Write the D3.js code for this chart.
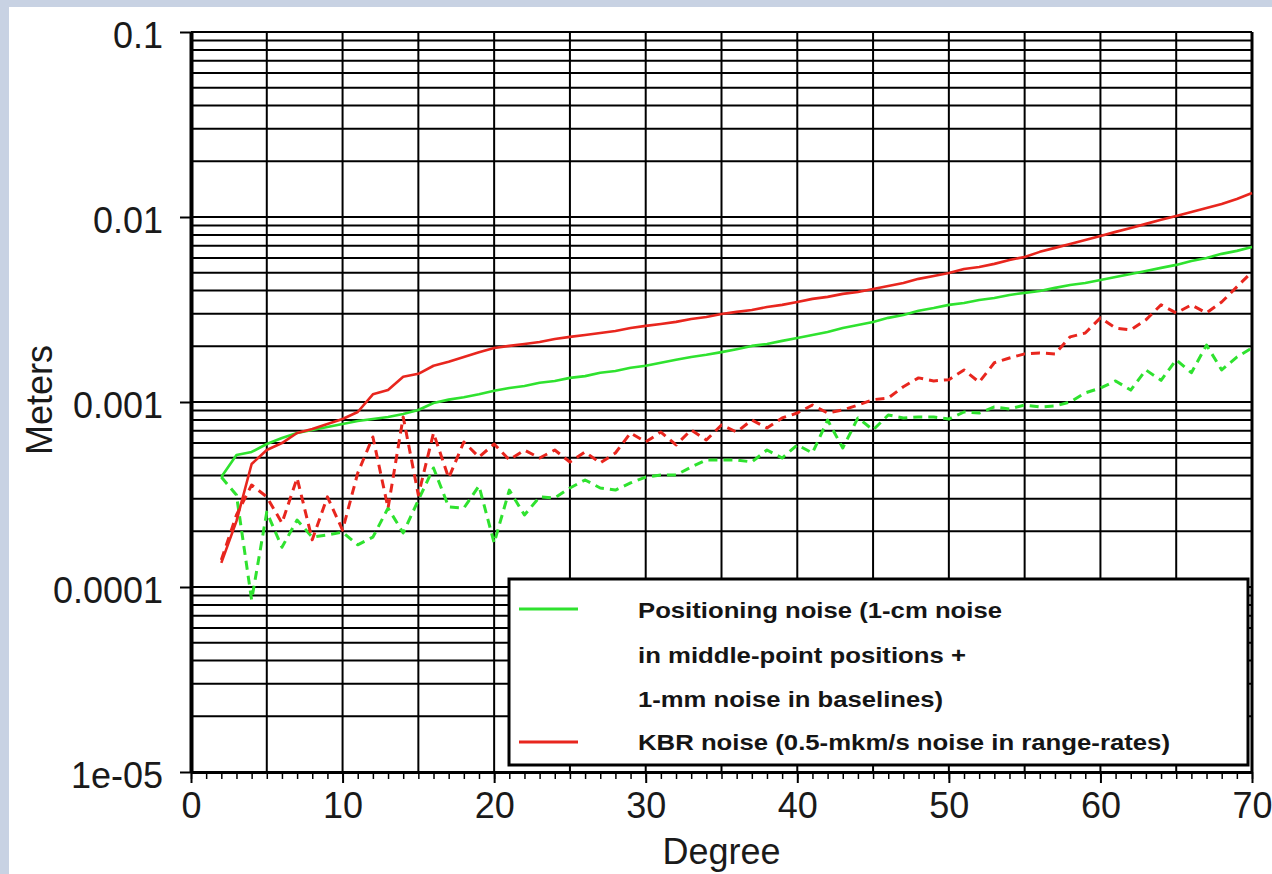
<!DOCTYPE html>
<html lang="en">
    <head>
        <meta charset="utf-8">
        <title>Noise vs degree</title>
        <script src="https://d3js.org/d3.v7.min.js"></script>
        <style>
            body { margin: 0; background: #c8d2e3; }
            svg { display: block; }
            text { font-family: "Liberation Sans", Arial, Helvetica, sans-serif; }
        </style>
    </head>
    <body>
        <div id="chart"></div>
        <script>
            // values (meters per degree)
            var degrees = [2, 3, 4, 5, 6, 7, 8, 9, 10, 11,
                           12, 13, 14, 15, 16, 17, 18, 19, 20, 21,
                           22, 23, 24, 25, 26, 27, 28, 29, 30, 31,
                           32, 33, 34, 35, 36, 37, 38, 39, 40, 41,
                           42, 43, 44, 45, 46, 47, 48, 49, 50, 51,
                           52, 53, 54, 55, 56, 57, 58, 59, 60, 61,
                           62, 63, 64, 65, 66, 67, 68, 69, 70];

            var kbrSolid = [0.000135, 0.000227, 0.000462, 0.000550, 0.000600, 0.000680, 0.000715, 0.000761, 0.000809, 0.000883,
                            0.00110, 0.00116, 0.00137, 0.00142, 0.00157, 0.00165, 0.00175, 0.00186, 0.00196, 0.00201,
                            0.00206, 0.00211, 0.00219, 0.00225, 0.00230, 0.00236, 0.00242, 0.00251, 0.00258, 0.00264,
                            0.00271, 0.00281, 0.00288, 0.00299, 0.00307, 0.00314, 0.00326, 0.00335, 0.00347, 0.00361,
                            0.00370, 0.00384, 0.00393, 0.00408, 0.00424, 0.00440, 0.00463, 0.00480, 0.00498, 0.00524,
                            0.00537, 0.00558, 0.00586, 0.00608, 0.00648, 0.00681, 0.00715, 0.00752, 0.00790, 0.00831,
                            0.00873, 0.00918, 0.00965, 0.01013, 0.01064, 0.01119, 0.01176, 0.01251, 0.01348];

            var posSolid = [0.000393, 0.000517, 0.000537, 0.000593, 0.000639, 0.000680, 0.000706, 0.000733, 0.000761, 0.000790,
                            0.000809, 0.000830, 0.000861, 0.000905, 0.000988, 0.00103, 0.00106, 0.00110, 0.00115, 0.00119,
                            0.00122, 0.00127, 0.00130, 0.00135, 0.00138, 0.00144, 0.00147, 0.00153, 0.00157, 0.00163,
                            0.00169, 0.00175, 0.00180, 0.00186, 0.00193, 0.00201, 0.00206, 0.00214, 0.00222, 0.00230,
                            0.00239, 0.00251, 0.00261, 0.00271, 0.00285, 0.00295, 0.00311, 0.00322, 0.00335, 0.00343,
                            0.00356, 0.00365, 0.00379, 0.00389, 0.00398, 0.00414, 0.00429, 0.00440, 0.00457, 0.00474,
                            0.00492, 0.00511, 0.00531, 0.00551, 0.00579, 0.00601, 0.00632, 0.00656, 0.00689];

            var posDashed = [0.000393, 0.000314, 0.0000851, 0.000254, 0.000164, 0.000230, 0.000186, 0.000191, 0.000198, 0.000169,
                             0.000186, 0.000267, 0.000196, 0.000295, 0.000440, 0.000271, 0.000267, 0.000352, 0.000173, 0.000334,
                             0.000245, 0.000307, 0.000303, 0.000343, 0.000379, 0.000343, 0.000334, 0.000365, 0.000393, 0.000403,
                             0.000403, 0.000445, 0.000486, 0.000486, 0.000486, 0.000474, 0.000550, 0.000498, 0.000586, 0.000530,
                             0.000799, 0.000564, 0.000820, 0.000706, 0.000851, 0.000820, 0.000830, 0.000830, 0.000809, 0.000883,
                             0.000872, 0.000940, 0.000917, 0.000963, 0.000940, 0.000951, 0.001000, 0.00112, 0.00119, 0.00130,
                             0.00116, 0.00149, 0.00131, 0.00169, 0.00144, 0.00203, 0.00149, 0.00175, 0.00196];

            var kbrDashed = [0.000140, 0.000245, 0.000356, 0.000307, 0.000222, 0.000388, 0.000180, 0.000307, 0.000203, 0.000413,
                             0.000647, 0.000267, 0.000830, 0.000314, 0.000680, 0.000388, 0.000608, 0.000504, 0.000593, 0.000486,
                             0.000550, 0.000498, 0.000550, 0.000474, 0.000537, 0.000468, 0.000530, 0.000680, 0.000608, 0.000688,
                             0.000586, 0.000706, 0.000623, 0.000751, 0.000688, 0.000799, 0.000724, 0.000820, 0.000872, 0.000963,
                             0.000872, 0.000905, 0.000963, 0.00103, 0.00105, 0.00121, 0.00135, 0.00130, 0.00132, 0.00149,
                             0.00128, 0.00163, 0.00173, 0.00182, 0.00184, 0.00182, 0.00225, 0.00236, 0.00285, 0.00251,
                             0.00245, 0.00278, 0.00335, 0.00303, 0.00335, 0.00303, 0.00347, 0.00419, 0.00505];

            var yTickValues = [0.1, 0.01, 0.001, 0.0001, 0.00001];
            var yTickLabels = ["0.1", "0.01", "0.001", "0.0001", "1e-05"];
            var xTickValues = [0, 10, 20, 30, 40, 50, 60, 70];

            var legendLines = ["Positioning noise (1-cm noise",
                               "in middle-point positions +",
                               "1-mm noise in baselines)",
                               "KBR noise (0.5-mkm/s noise in range-rates)"];

            var green = "#2fe22f",
                red = "#e8261e";

            var W = 1272, H = 874;
            var plot = {left: 191, right: 1252, top: 32, bottom: 772};

            var svg = d3.select("#chart")
                        .append("svg")
                        .attr("width", W)
                        .attr("height", H);

            // white page panel over the blue slide background
            svg.append("rect")
               .attr("x", 9).attr("y", 7)
               .attr("width", W - 9).attr("height", H - 7)
               .attr("fill", "#fff");

            var x = d3.scaleLinear()
                      .domain([0, 70])
                      .range([plot.left, plot.right]);

            var y = d3.scaleLog()
                      .domain([0.00001, 0.1])
                      .range([plot.bottom, plot.top]);

            // grid
            svg.append("g")
               .selectAll("line")
               .data(y.ticks())
               .enter().append("line")
               .attr("x1", plot.left).attr("x2", plot.right)
               .attr("y1", function(d) { return y(d); })
               .attr("y2", function(d) { return y(d); })
               .attr("stroke", "#000")
               .attr("stroke-width", 2);

            svg.append("g")
               .selectAll("line")
               .data(x.ticks(14))
               .enter().append("line")
               .attr("x1", function(d) { return x(d); })
               .attr("x2", function(d) { return x(d); })
               .attr("y1", plot.top).attr("y2", plot.bottom)
               .attr("stroke", "#000")
               .attr("stroke-width", function(d) { return d == 70 ? 3 : 2; });

            // axes
            var yAxis = svg.append("g")
                           .attr("transform", "translate(" + plot.left + ",0)")
                           .call(d3.axisLeft(y)
                                   .tickValues(yTickValues)
                                   .tickSize(11)
                                   .tickSizeOuter(0)
                                   .tickPadding(17)
                                   .tickFormat(function(d, i) { return yTickLabels[i]; }));
            yAxis.select(".domain").attr("stroke-width", 4);
            yAxis.selectAll(".tick line").attr("stroke-width", 2);
            yAxis.selectAll("text")
                 .attr("dy", "0.42em")
                 .style("font-size", "36px")
                 .style("fill", "#1a1a1a");

            var xMinor = svg.append("g")
                            .attr("transform", "translate(0," + plot.bottom + ")")
                            .call(d3.axisBottom(x).ticks(70).tickSize(7).tickSizeOuter(0).tickFormat(""));
            xMinor.selectAll(".tick line").attr("stroke-width", 1.5);

            var xAxis = svg.append("g")
                           .attr("transform", "translate(0," + plot.bottom + ")")
                           .call(d3.axisBottom(x)
                                   .tickValues(xTickValues)
                                   .tickSize(11)
                                   .tickSizeOuter(0)
                                   .tickPadding(9));
            xAxis.select(".domain").attr("stroke-width", 3);
            xAxis.selectAll(".tick line").attr("stroke-width", 2);
            xAxis.selectAll("text")
                 .style("font-size", "36px")
                 .style("fill", "#1a1a1a");

            svg.append("text")
               .attr("x", (plot.left + plot.right) / 2)
               .attr("y", 864)
               .attr("text-anchor", "middle")
               .style("font-size", "36px")
               .style("fill", "#1a1a1a")
               .text("Degree");

            svg.append("text")
               .attr("transform", "translate(52,400) rotate(-90)")
               .attr("text-anchor", "middle")
               .style("font-size", "36px")
               .style("fill", "#1a1a1a")
               .text("Meters");

            // curves
            var line = d3.line()
                         .x(function(d) { return x(d[0]); })
                         .y(function(d) { return y(d[1]); });

            function pairs(vals) {
                return degrees.map(function(d, i) { return [d, vals[i]]; });
            }

            var series = [
                {vals: posDashed, color: green, dash: "9,6", w: 3},
                {vals: kbrDashed, color: red, dash: "9,6", w: 3},
                {vals: posSolid, color: green, dash: null, w: 2.6},
                {vals: kbrSolid, color: red, dash: null, w: 2.6}
            ];

            svg.selectAll("path.curve")
               .data(series)
               .enter().append("path")
               .attr("class", "curve")
               .attr("d", function(s) { return line(pairs(s.vals)); })
               .attr("fill", "none")
               .attr("stroke", function(s) { return s.color; })
               .attr("stroke-width", function(s) { return s.w; })
               .attr("stroke-dasharray", function(s) { return s.dash; })
               .attr("stroke-linejoin", "round");

            // legend
            var lg = svg.append("g");
            lg.append("rect")
              .attr("x", 509).attr("y", 579)
              .attr("width", 739).attr("height", 186)
              .attr("fill", "#fff")
              .attr("stroke", "#000")
              .attr("stroke-width", 3);

            lg.append("line")
              .attr("x1", 519).attr("x2", 578).attr("y1", 609).attr("y2", 609)
              .attr("stroke", green).attr("stroke-width", 3);
            lg.append("line")
              .attr("x1", 519).attr("x2", 578).attr("y1", 742).attr("y2", 742)
              .attr("stroke", red).attr("stroke-width", 3);

            var legendY = [618, 663, 707, 750];
            var legendW = [364, 328, 305, 532];
            lg.selectAll("text")
              .data(legendLines)
              .enter().append("text")
              .attr("x", 638)
              .attr("y", function(d, i) { return legendY[i]; })
              .attr("textLength", function(d, i) { return legendW[i]; })
              .attr("lengthAdjust", "spacingAndGlyphs")
              .style("font-size", "22px")
              .style("font-weight", "bold")
              .style("fill", "#151515")
              .text(function(d) { return d; });
        </script>
    </body>
</html>
